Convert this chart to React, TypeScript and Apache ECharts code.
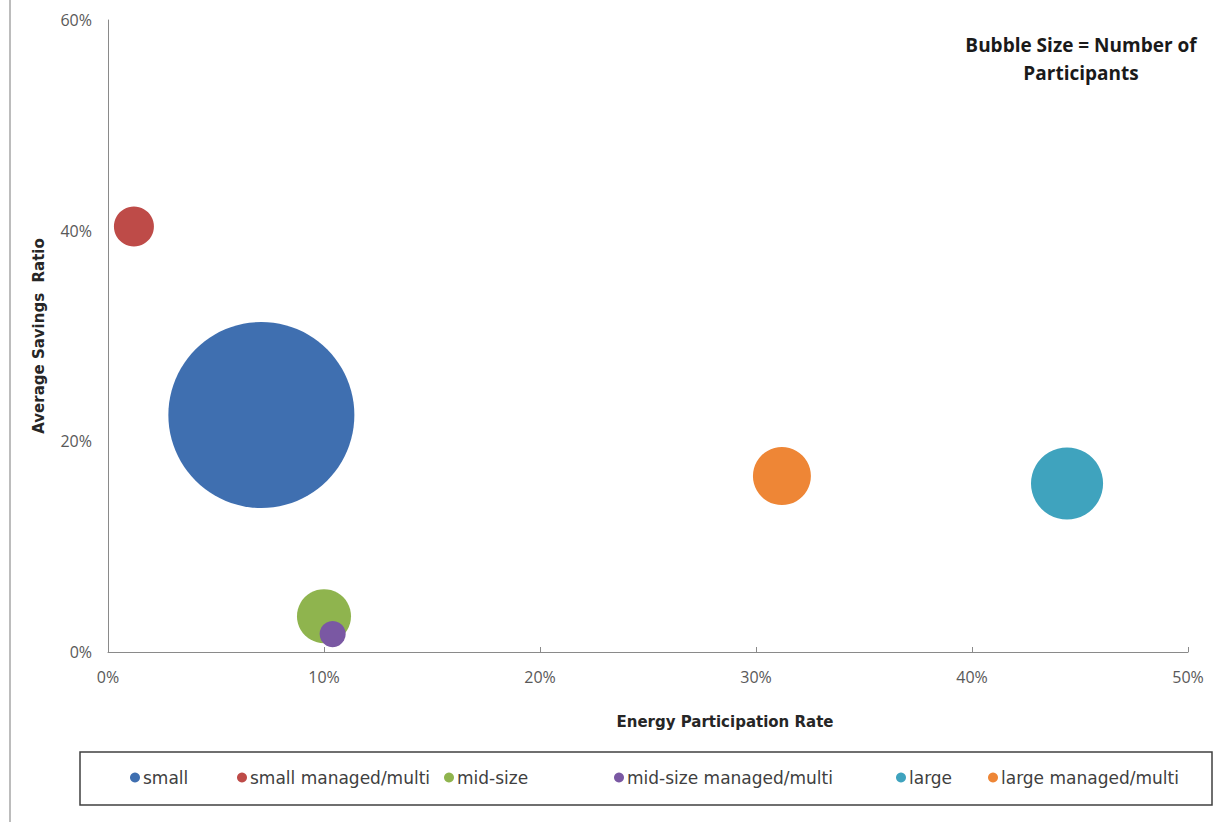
import React, { useEffect, useRef } from "react";
import * as echarts from "echarts";

const seriesNames = [
  "small",
  "small managed/multi",
  "mid-size",
  "mid-size managed/multi",
  "large",
  "large managed/multi",
];
const participationRate = [7.1, 1.2, 10.0, 10.4, 44.4, 31.2];
const savingsRatio = [22.5, 40.4, 3.4, 1.7, 16.0, 16.7];
const participants = [8650, 400, 730, 170, 1300, 840];
const colors = ["#3F6FB0", "#BE4B48", "#8FB44E", "#7A58A3", "#3FA3BE", "#EE8636"];
const legendLefts = [130, 237, 444, 614, 896, 988];
const xTicks = { min: 0, max: 50, interval: 10 };
const yTicks = { min: 0, max: 60, interval: 20 };

const FONT = "'Open Sans', 'Liberation Sans', sans-serif";
const WIDE = "'DejaVu Sans', 'Open Sans', sans-serif";

export default function App() {
  const ref = useRef<HTMLDivElement>(null);
  useEffect(() => {
    if (!ref.current) return;
    const chart = echarts.init(ref.current, undefined, { renderer: "svg" });
    const maxP = Math.max(...participants);
    const option = {
      animation: false,
      backgroundColor: "#ffffff",
      textStyle: { fontFamily: FONT },
      grid: { left: 108, right: 44, top: 20, bottom: 173, containLabel: false },
      xAxis: {
        type: "value",
        min: xTicks.min,
        max: xTicks.max,
        interval: xTicks.interval,
        axisLine: { show: true, lineStyle: { color: "#8a8a8a", width: 1 } },
        axisTick: { show: true, inside: true, length: 5, lineStyle: { color: "#8a8a8a" } },
        splitLine: { show: false },
        axisLabel: {
          formatter: (v: number) => `${v}%`,
          color: "#595959",
          fontSize: 16,
          fontFamily: FONT,
          margin: 17,
        },
      },
      yAxis: {
        type: "value",
        min: yTicks.min,
        max: yTicks.max,
        interval: yTicks.interval,
        name: "Average Savings  Ratio",
        nameLocation: "middle",
        nameGap: 62,
        nameTextStyle: { fontSize: 15, fontWeight: "bold", color: "#262626", fontFamily: WIDE },
        axisLine: { show: true, lineStyle: { color: "#8a8a8a", width: 1 } },
        axisTick: { show: false },
        splitLine: { show: false },
        axisLabel: {
          formatter: (v: number) => `${v}%`,
          color: "#595959",
          fontSize: 16,
          fontFamily: FONT,
          margin: 16,
        },
      },
      legend: seriesNames.map((n, i) => ({
        data: [n],
        left: legendLefts[i],
        top: 769,
        padding: 0,
        icon: "circle",
        itemWidth: 10,
        itemHeight: 10,
        textStyle: { fontSize: 17, color: "#404040", fontFamily: WIDE, padding: [0, 0, 0, -2] },
      })),
      graphic: [
        {
          type: "line",
          shape: { x1: 10, y1: 0, x2: 10, y2: 822 },
          style: { stroke: "#a6a6a6", lineWidth: 1.5 },
        },
        {
          type: "rect",
          shape: { x: 80, y: 752, width: 1132, height: 53 },
          style: { fill: "none", stroke: "#404040", lineWidth: 1.5 },
        },
        {
          type: "text",
          x: 725,
          y: 722,
          style: {
            text: "Energy Participation Rate",
            fontSize: 15,
            fontWeight: "bold",
            fill: "#262626",
            fontFamily: WIDE,
            align: "center",
            verticalAlign: "middle",
          },
        },
        {
          type: "text",
          x: 1081,
          y: 59,
          style: {
            text: "Bubble Size = Number of\nParticipants",
            fontSize: 19,
            fontWeight: "bold",
            fill: "#1a1a1a",
            fontFamily: FONT,
            align: "center",
            verticalAlign: "middle",
            lineHeight: 28,
          },
        },
      ],
      series: seriesNames.map((n, i) => ({
        name: n,
        type: "scatter",
        itemStyle: { color: colors[i], opacity: 1 },
        symbolSize: (val: number[]) => 186 * Math.sqrt(val[2] / maxP),
        data: [[participationRate[i], savingsRatio[i], participants[i]]],
      })),
    };
    chart.setOption(option as any);
    return () => chart.dispose();
  }, []);
  return (
    <div
      ref={ref}
      style={{ position: "fixed", left: 0, top: 0, width: 1232, height: 825 }}
    />
  );
}
